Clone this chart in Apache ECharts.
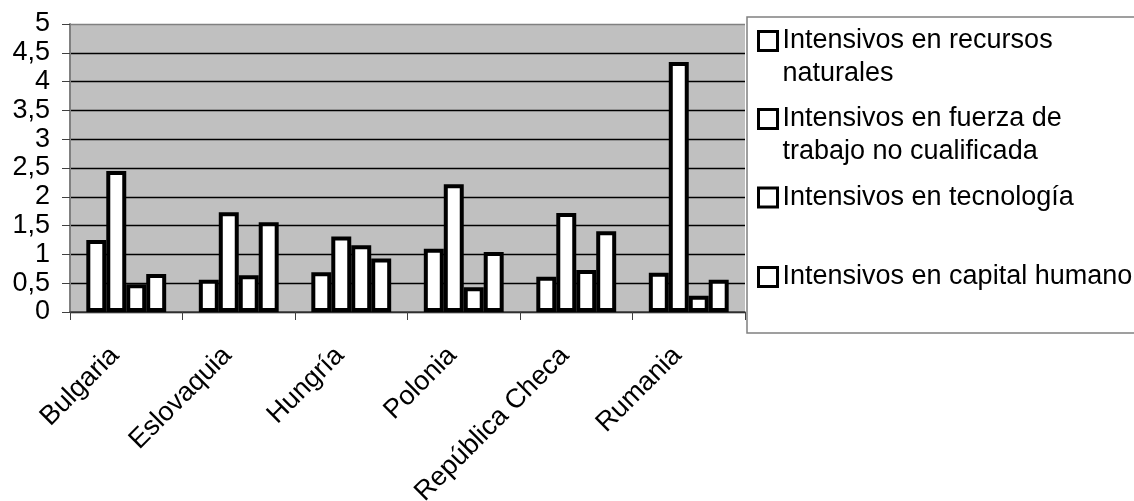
<!DOCTYPE html>
<html>
<head>
<meta charset="utf-8">
<script src="https://cdn.jsdelivr.net/npm/echarts@6/dist/echarts.min.js"></script>
<style>
  html, body { margin: 0; padding: 0; background: #fff; }
  #chart { width: 1134px; height: 501px; }
</style>
</head>
<body>
<div id="chart"></div>
<script>
const categories = ['Bulgaria', 'Eslovaquia', 'Hungría', 'Polonia', 'República Checa', 'Rumania'];
const seriesNames = [
  'Intensivos en recursos naturales',
  'Intensivos en fuerza de trabajo no cualificada',
  'Intensivos en tecnología',
  'Intensivos en capital humano'
];
const legendLines = [
  ['Intensivos en recursos', 'naturales'],
  ['Intensivos en fuerza de', 'trabajo no cualificada'],
  ['Intensivos en tecnología'],
  ['Intensivos en capital humano']
];
const recursosNaturales = [1.25, 0.56, 0.69, 1.10, 0.61, 0.68];
const fuerzaTrabajo     = [2.45, 1.73, 1.31, 2.22, 1.72, 4.34];
const tecnologia        = [0.48, 0.64, 1.16, 0.43, 0.73, 0.28];
const capitalHumano     = [0.66, 1.56, 0.93, 1.04, 1.40, 0.56];
const seriesValues = [recursosNaturales, fuerzaTrabajo, tecnologia, capitalHumano];
const yTicks = [0, 0.5, 1, 1.5, 2, 2.5, 3, 3.5, 4, 4.5, 5];

const FONT = '"Liberation Sans", Arial, sans-serif';
const FS = 27;
const legendIconCenters = [41, 119, 197.5, 277];
const LINE_H = 33;

const chart = echarts.init(document.getElementById('chart'), null, { renderer: 'canvas' });

const splitColors = yTicks.map((t, i) => i === yTicks.length - 1 ? '#808080' : '#000000');

const legends = seriesNames.map((name, i) => {
  const lines = legendLines[i];
  const twoLine = lines.length > 1;
  const c = legendIconCenters[i];
  // a leading empty line keeps the first text line centred on the icon
  const shown = twoLine ? ['', lines[0], lines[1]] : lines;
  return {
    show: true,
    orient: 'vertical',
    left: 757,
    top: c - (shown.length * LINE_H) / 2,
    padding: 0,
    itemWidth: 19,
    itemHeight: 19,
    icon: 'rect',
    selectedMode: false,
    data: [name],
    formatter: () => shown.join('\n'),
    itemStyle: { color: '#ffffff', borderColor: '#000000', borderWidth: 3 },
    textStyle: {
      fontFamily: FONT,
      fontSize: FS,
      color: '#000',
      lineHeight: LINE_H
    }
  };
});

const option = {
  animation: false,
  backgroundColor: '#ffffff',
  textStyle: { fontFamily: FONT },
  graphic: [{
    type: 'rect',
    z: -1,
    shape: { x: 747, y: 17, width: 420, height: 316 },
    style: { fill: 'none', stroke: '#808080', lineWidth: 1.5 }
  }],
  legend: legends,
  grid: {
    left: 70, right: 1134 - 745, top: 24, bottom: 501 - 312,
    show: true, backgroundColor: '#c0c0c0', borderColor: '#808080', borderWidth: 0,
    containLabel: false,
    outerBoundsMode: 'none'
  },
  xAxis: {
    type: 'category',
    data: categories,
    boundaryGap: true,
    axisLine: { show: true, lineStyle: { color: '#404040', width: 1.5 } },
    axisTick: { show: true, alignWithLabel: false, length: 8, lineStyle: { color: '#404040', width: 1 } },
    axisLabel: {
      rotate: 45, margin: 28, interval: 0, hideOverlap: false,
      fontFamily: FONT, fontSize: FS, color: '#000',
      formatter: v => '{a|' + v + '}',
      rich: { a: { fontFamily: FONT, fontSize: FS, color: '#000', padding: [0, 16, 0, 0] } }
    },
    splitLine: { show: false }
  },
  yAxis: {
    type: 'value',
    min: 0, max: 5, interval: 0.5,
    axisLine: { show: true, lineStyle: { color: '#808080', width: 2 } },
    axisTick: { show: true, inside: false, length: 8, lineStyle: { color: '#404040', width: 1 } },
    axisLabel: {
      margin: 20,
      fontFamily: FONT, fontSize: FS, color: '#000',
      formatter: v => String(v).replace('.', ',')
    },
    splitLine: { show: true, lineStyle: { color: splitColors, width: 1.3 } }
  },
  series: seriesNames.map((name, i) => ({
    name: name,
    type: 'bar',
    data: seriesValues[i],
    barGap: '0%',
    barCategoryGap: '29%',
    itemStyle: { color: '#ffffff', borderColor: '#000000', borderWidth: 4 }
  }))
};

chart.setOption(option);
</script>
</body>
</html>
